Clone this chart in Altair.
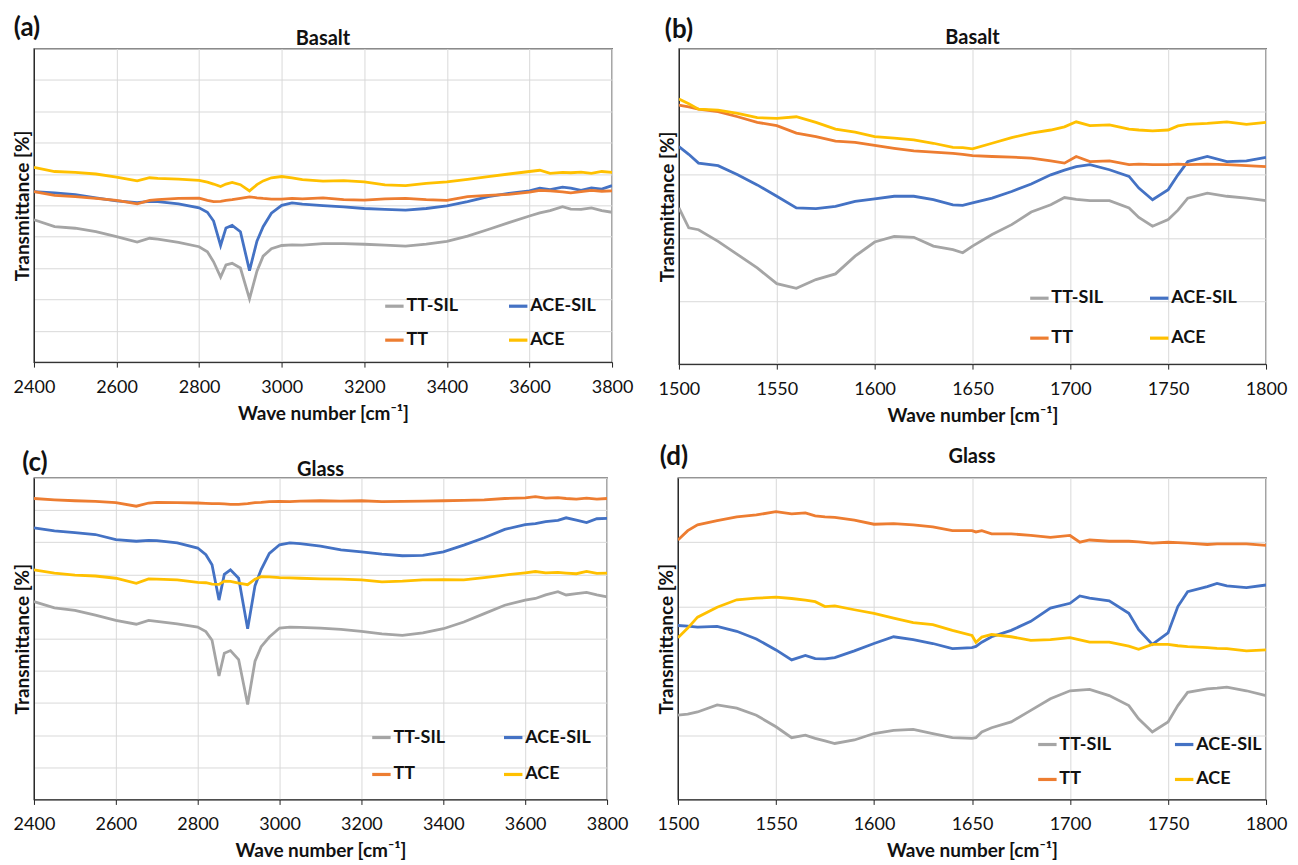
import altair as alt
import pandas as pd

SERIES = ["TT-SIL", "ACE-SIL", "TT", "ACE"]
COLORS = ["#A5A5A5", "#4472C4", "#ED7D31", "#FFC000"]
FONT = "Lato"

# ---------- panels (a) and (c): 2400-3800 cm-1 ----------
x_hi = [2400, 2450, 2500, 2550, 2600, 2650, 2680, 2700, 2750, 2800, 2820, 2835, 2852,
        2865, 2880, 2900, 2922, 2940, 2955, 2975, 3000, 3025, 3050, 3100, 3150, 3200,
        3250, 3300, 3350, 3400, 3450, 3500, 3550, 3600, 3625, 3650, 3680, 3700, 3725,
        3750, 3775, 3800]

a_tt_sil = [45.4, 43.2, 42.7, 41.6, 40.0, 38.3, 39.5, 39.2, 38.2, 36.8, 35.2, 32.0, 27.1,
            31.0, 31.5, 30.0, 20.2, 29.0, 33.8, 36.2, 37.2, 37.4, 37.3, 37.8, 37.8, 37.6,
            37.3, 37.0, 37.6, 38.5, 40.2, 42.3, 44.5, 46.6, 47.6, 48.3, 49.6, 48.8, 48.7,
            49.2, 48.3, 47.8]
a_ace_sil = [54.4, 54.0, 53.4, 52.4, 51.4, 50.9, 51.3, 51.2, 50.5, 49.2, 47.8, 45.0, 37.2,
             42.8, 43.6, 41.6, 29.2, 38.6, 43.2, 47.5, 50.0, 50.8, 50.4, 49.9, 49.5, 49.0,
             48.7, 48.5, 49.0, 49.8, 51.2, 52.8, 53.8, 54.6, 55.5, 55.0, 55.8, 55.5, 54.8,
             55.6, 55.2, 56.3]
a_tt = [54.4, 53.2, 52.8, 52.2, 51.6, 50.5, 51.6, 51.8, 52.2, 52.3, 51.6, 51.2, 51.3,
        51.6, 51.8, 52.2, 52.7, 52.4, 52.2, 52.0, 52.0, 52.2, 52.1, 52.4, 51.8, 51.7,
        52.1, 52.2, 51.8, 51.6, 52.8, 53.2, 53.5, 54.2, 54.8, 54.6, 54.3, 54.0, 54.4,
        54.8, 54.5, 54.6]
a_ace = [62.1, 60.8, 60.5, 60.0, 59.0, 57.8, 58.8, 58.6, 58.4, 58.0, 57.4, 56.8, 56.0,
         56.8, 57.3, 56.6, 54.6, 56.6, 57.8, 58.8, 59.2, 58.8, 58.2, 57.7, 57.9, 57.5,
         56.5, 56.3, 57.0, 57.5, 58.3, 59.2, 60.0, 60.8, 61.2, 60.2, 60.5, 60.4, 60.6,
         60.2, 60.8, 60.5]

c_tt_sil = [61.5, 59.6, 58.8, 57.3, 55.7, 54.5, 55.7, 55.4, 54.6, 53.6, 52.2, 49.5, 38.4,
            45.5, 46.3, 43.5, 29.5, 43.0, 47.5, 50.5, 53.3, 53.6, 53.5, 53.3, 52.9, 52.3,
            51.5, 51.0, 51.8, 53.1, 55.2, 57.8, 60.4, 62.0, 62.5, 63.6, 64.6, 63.6, 64.0,
            64.4, 63.6, 63.0]
c_ace_sil = [84.5, 83.5, 83.0, 82.4, 80.8, 80.3, 80.6, 80.5, 79.8, 78.2, 76.1, 73.0, 62.0,
             70.0, 71.4, 68.8, 53.1, 66.5, 71.5, 76.5, 79.2, 79.8, 79.6, 78.8, 77.6, 77.0,
             76.3, 75.8, 75.9, 77.0, 79.1, 81.4, 84.0, 85.5, 85.8, 86.4, 86.8, 87.6, 86.9,
             86.1, 87.3, 87.4]
c_tt = [93.6, 93.2, 92.9, 92.7, 92.3, 91.2, 92.2, 92.4, 92.3, 92.2, 92.1, 92.0, 92.0,
        91.9, 91.8, 91.8, 92.0, 92.3, 92.4, 92.6, 92.7, 92.6, 92.8, 92.9, 92.8, 92.9,
        92.6, 92.7, 92.8, 92.9, 93.0, 93.2, 93.6, 93.8, 94.2, 93.7, 93.9, 93.6, 93.4,
        93.7, 93.4, 93.6]
c_ace = [71.4, 70.4, 69.8, 69.5, 68.8, 67.2, 68.6, 68.5, 68.3, 67.5, 67.4, 67.0, 66.9,
         67.9, 67.8, 67.3, 66.8, 68.5, 69.3, 69.2, 69.0, 68.9, 68.8, 68.6, 68.5, 68.3,
         67.7, 67.9, 68.3, 68.4, 68.3, 69.0, 69.8, 70.5, 70.9, 70.5, 70.6, 70.4, 70.2,
         70.9, 70.3, 70.4]

# ---------- panel (b): 1500-1800 cm-1 ----------
x_b = [1500, 1505, 1510, 1520, 1530, 1540, 1550, 1560, 1570, 1580, 1590, 1600, 1610,
       1620, 1630, 1640, 1645, 1650, 1660, 1670, 1680, 1690, 1697, 1703, 1710, 1720,
       1730, 1735, 1742, 1750, 1755, 1760, 1770, 1780, 1790, 1800]
b_tt_sil = [49.5, 43.2, 42.6, 38.9, 34.7, 30.5, 25.5, 24.0, 26.8, 28.6, 34.2, 38.7, 40.5,
            40.2, 37.4, 36.3, 35.3, 37.4, 41.1, 44.2, 48.2, 50.5, 52.8, 52.2, 51.8, 51.8,
            49.5, 46.5, 43.7, 45.8, 48.8, 52.6, 54.2, 53.2, 52.6, 51.8]
b_ace_sil = [68.9, 66.5, 63.7, 62.9, 60.0, 56.8, 53.2, 49.5, 49.3, 50.0, 51.6, 52.4, 53.2,
             53.2, 52.1, 50.5, 50.3, 51.1, 52.6, 54.7, 57.1, 60.0, 61.5, 62.6, 63.2, 61.6,
             59.5, 55.8, 52.1, 55.3, 60.0, 64.2, 65.8, 64.2, 64.4, 65.5]
b_tt = [82.1, 81.5, 80.8, 80.0, 78.4, 76.6, 75.6, 73.2, 72.1, 70.7, 70.3, 69.3, 68.4,
        67.6, 67.2, 66.8, 66.5, 66.1, 65.8, 65.6, 65.3, 64.4, 63.7, 65.8, 64.2, 64.4,
        63.2, 63.4, 63.2, 63.2, 63.4, 63.2, 63.4, 63.2, 62.9, 62.6]
b_ace = [84.0, 82.5, 80.8, 80.5, 79.5, 78.1, 77.9, 78.4, 76.6, 74.5, 73.5, 72.1, 71.6,
         71.1, 70.0, 68.7, 68.6, 68.2, 70.0, 71.8, 73.2, 74.2, 75.2, 76.8, 75.6, 75.8,
         74.5, 74.2, 73.9, 74.2, 75.5, 76.0, 76.3, 76.8, 76.0, 76.6]

# ---------- panel (d): 1500-1800 cm-1 ----------
x_d = [1500, 1505, 1510, 1520, 1530, 1540, 1550, 1558, 1565, 1570, 1575, 1580, 1590,
       1600, 1610, 1620, 1630, 1640, 1650, 1652, 1655, 1660, 1670, 1680, 1690, 1700,
       1705, 1710, 1720, 1730, 1735, 1742, 1750, 1755, 1760, 1770, 1775, 1780, 1790, 1800]
d_tt_sil = [26.2, 26.5, 27.2, 29.4, 28.4, 26.2, 22.6, 19.2, 20.0, 19.0, 18.2, 17.4, 18.5,
            20.5, 21.5, 21.8, 20.5, 19.2, 19.0, 19.2, 21.0, 22.3, 24.1, 27.7, 31.3, 33.8,
            34.0, 34.2, 32.3, 29.2, 25.1, 21.0, 24.1, 29.2, 33.3, 34.4, 34.6, 34.9, 33.8, 32.3]
d_ace_sil = [54.1, 53.9, 53.6, 53.8, 52.3, 49.9, 46.5, 43.4, 44.8, 43.8, 43.7, 44.1, 46.2,
             48.5, 50.6, 49.7, 48.5, 46.9, 47.2, 47.6, 48.9, 50.6, 52.6, 55.4, 59.5, 61.0,
             63.3, 62.6, 61.8, 57.9, 52.8, 48.2, 51.8, 60.0, 64.6, 66.2, 67.2, 66.4, 65.9, 66.7]
d_tt = [80.7, 83.6, 85.4, 86.7, 87.9, 88.5, 89.5, 88.8, 89.1, 88.2, 87.9, 87.7, 86.9,
        85.6, 85.8, 85.4, 84.8, 83.6, 83.6, 83.2, 83.6, 82.6, 82.6, 82.1, 81.5, 82.1,
        80.0, 80.7, 80.3, 80.3, 80.1, 79.7, 80.0, 79.9, 79.7, 79.3, 79.5, 79.5, 79.5, 79.0]
d_ace = [50.3, 53.3, 56.7, 59.8, 62.1, 62.6, 62.9, 62.5, 62.0, 61.5, 60.0, 60.2, 59.0,
         57.9, 56.4, 55.0, 54.4, 52.6, 51.0, 48.9, 50.5, 51.3, 50.6, 49.5, 49.7, 50.3,
         49.6, 48.9, 48.9, 47.7, 46.7, 48.2, 48.2, 47.8, 47.5, 47.2, 47.0, 46.9, 46.2, 46.5]

ticks_hi = [2400, 2600, 2800, 3000, 3200, 3400, 3600, 3800]
ticks_lo = [1500, 1550, 1600, 1650, 1700, 1750, 1800]
grid10 = [0, 10, 20, 30, 40, 50, 60, 70, 80, 90, 100]
grid5 = [0, 20, 40, 60, 80, 100]


def frame(x, tt_sil, ace_sil, tt, ace):
    rows = []
    for name, ys in zip(SERIES, [tt_sil, ace_sil, tt, ace]):
        for xi, yi in zip(x, ys):
            rows.append({"wn": xi, "T": yi, "series": name})
    return pd.DataFrame(rows)


def panel(df, letter, title, xdomain, xticks, ygrid, w, h, leg, title_y, let_xy):
    lines = alt.Chart(df).mark_line(strokeWidth=2.8, clip=True).encode(
        x=alt.X("wn:Q",
                scale=alt.Scale(domain=xdomain, nice=False, zero=False),
                axis=alt.Axis(values=xticks, format="d", title="Wave number [cm⁻¹]",
                              labelFlush=False, labelOverlap=False)),
        y=alt.Y("T:Q",
                scale=alt.Scale(domain=[0, 100], nice=False, zero=False),
                axis=alt.Axis(values=ygrid, labels=False, ticks=False,
                              title="Transmittance [%]")),
        color=alt.Color("series:N",
                        scale=alt.Scale(domain=SERIES, range=COLORS),
                        legend=alt.Legend(orient="none", legendX=leg[0], legendY=leg[1],
                                          columns=2, direction="horizontal", title=None,
                                          symbolType="stroke", symbolStrokeWidth=3.2,
                                          symbolSize=340, labelFontSize=18, labelFont=FONT,
                                          labelFontWeight="bold", labelColor="#111",
                                          labelOffset=1, columnPadding=leg[2],
                                          rowPadding=leg[3], padding=0)),
        order=alt.Order("wn:Q"),
    )
    texts = pd.DataFrame({"t": [letter, title]})
    lab = alt.Chart(texts).transform_filter(alt.datum.t == letter).mark_text(
        font=FONT, fontSize=26, fontWeight="bold", color="#111",
        align="center", baseline="middle"
    ).encode(text="t:N", x=alt.value(let_xy[0]), y=alt.value(let_xy[1]))
    ttl = alt.Chart(texts).transform_filter(alt.datum.t == title).mark_text(
        font=FONT, fontSize=20, fontWeight="bold", color="#111",
        align="center", baseline="middle"
    ).encode(text="t:N", x=alt.value(w / 2), y=alt.value(title_y))
    return alt.layer(lines, lab, ttl).properties(width=w, height=h)


pa = panel(frame(x_hi, a_tt_sil, a_ace_sil, a_tt, a_ace), "(a)", "Basalt",
           [2400, 3800], ticks_hi, grid10, 579, 314, (350, 247, 44, 14), -10, (-7, -21))
pb = panel(frame(x_b, b_tt_sil, b_ace_sil, b_tt, b_ace), "(b)", "Basalt",
           [1500, 1800], ticks_lo, grid5, 588, 316, (350, 239, 40, 20), -11, (0, -19))
pc = panel(frame(x_hi, c_tt_sil, c_ace_sil, c_tt, c_ace), "(c)", "Glass",
           [2400, 3800], ticks_hi, grid10, 574, 322, (337, 249, 52, 17), -8, (1, -15))
pd_ = panel(frame(x_d, d_tt_sil, d_ace_sil, d_tt, d_ace), "(d)", "Glass",
            [1500, 1800], ticks_lo, grid5, 589, 322, (359, 256, 57, 15), -21, (-4, -21))

row1 = alt.hconcat(pa, pb, spacing=23).resolve_legend(color="independent")
row2 = alt.hconcat(pc, pd_, spacing=27).resolve_legend(color="independent")

chart = alt.vconcat(row1, row2, spacing=17).resolve_legend(color="independent").properties(
    padding={"left": 4, "top": 5, "right": 2, "bottom": 0}
).configure(
    font=FONT
).configure_axis(
    labelFont=FONT, labelFontSize=18, labelColor="#111",
    titleFont=FONT, titleFontSize=19, titleFontWeight="bold", titleColor="#111",
    gridColor="#D9D9D9", gridWidth=1, domainColor="#222", tickColor="#222",
    tickSize=5,
).configure_axisX(labelPadding=11, titlePadding=8).configure_axisY(titlePadding=1).configure_view(
    stroke="#222", strokeWidth=1.3
)

chart.save("out.html", embed_options={"renderer": "svg", "actions": False})
